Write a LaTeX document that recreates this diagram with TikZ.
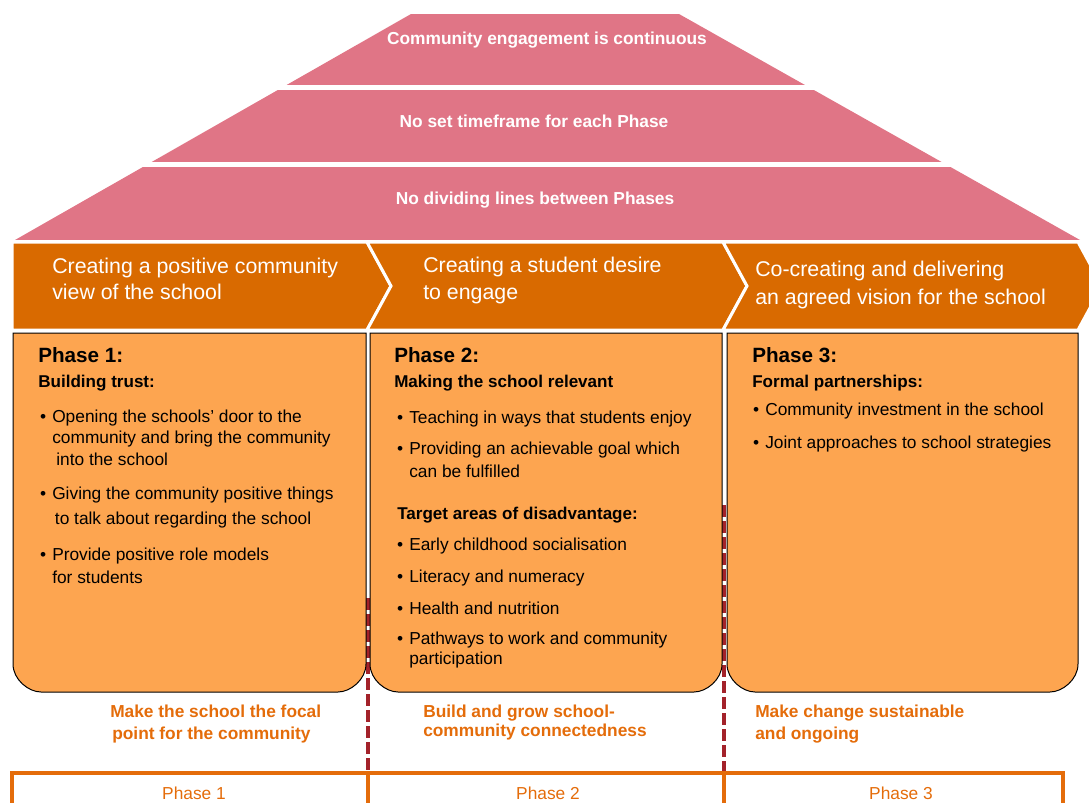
\documentclass[tikz,border=0pt]{standalone}
\usepackage{fontspec}
\setmainfont{Liberation Sans}
\usepackage{tikz}
\usetikzlibrary{calc,arrows,positioning}

\definecolor{bandpink}{HTML}{E07586}
\definecolor{chevorange}{HTML}{D96A00}
\definecolor{boxorange}{HTML}{FDA550}
\definecolor{goalorange}{HTML}{E46C0A}
\definecolor{dividerred}{HTML}{A3222A}

\newcommand{\bul}{\llap{\textbullet\hspace{4.5pt}}}

\begin{document}
\begin{tikzpicture}[x=0.75pt, y=-0.75pt, inner sep=0pt,
    bandtext/.style={anchor=base, text=white, font=\bfseries\fontsize{13}{16}\selectfont},
    chev/.style={fill=chevorange, draw=white, line width=2.25pt},
    chevtext/.style={anchor=base west, text=white, align=left, font=\fontsize{16}{19}\selectfont},
    phasebox/.style={fill=boxorange, draw=black, line width=0.75pt},
    phasetitle/.style={anchor=base west, font=\bfseries\fontsize{15.5}{18}\selectfont},
    subhead/.style={anchor=base west, font=\bfseries\fontsize{12.8}{16}\selectfont},
    listitem/.style={anchor=base west, align=left, font=\fontsize{13}{16}\selectfont},
    goaltext/.style={anchor=base west, align=left, text=goalorange, font=\bfseries\fontsize{13}{16}\selectfont},
    divider/.style={draw=dividerred, line width=3pt, dash pattern=on 9pt off 3pt},
    phaseframe/.style={draw=goalorange, line width=3.5pt},
    framelabel/.style={anchor=base, text=goalorange, font=\fontsize{13}{16}\selectfont}]
\useasboundingbox (0,0) rectangle (1089,803);

% chevrons
\draw[chev] (12,242) -- (367,242) -- (391,286) -- (367,330) -- (12,330) -- cycle;
\draw[chev] (367,242) -- (723,242) -- (747,286) -- (723,330) -- (367,330) -- (391,286) -- cycle;
\draw[chev] (723,242) -- (1078,242) -- (1102,286) -- (1078,330) -- (723,330) -- (747,286) -- cycle;

% roof
\begin{scope}
    \clip (411,14) -- (679,14) -- (1080,240) -- (15,240) -- cycle;
    \fill[bandpink] (0,14) rectangle (1089,85);
    \fill[bandpink] (0,90) rectangle (1089,162);
    \fill[bandpink] (0,167) rectangle (1089,240);
\end{scope}
\node[bandtext] (band1) at (547,44) {Community engagement is continuous};
\node[bandtext] (band2) at (534,127) {No set timeframe for each Phase};
\node[bandtext] (band3) at (535,204) {No dividing lines between Phases};

% multi-line nodes sit on the baseline of their last line
\node[chevtext] (view1) at (52,299) {Creating a positive community\\view of the school};
\node[chevtext] (view2) at (423,299) {Creating a student desire\\[1pt]to engage};
\node[chevtext] (view3) at (755,304) {Co-creating and delivering\\[1.5pt]an agreed vision for the school};

% dividers
\draw[divider] (368,598) -- (368,772);
\draw[divider] (724,505) -- (724,772);

% phase boxes
\draw[phasebox] (13,333) -- (366,333) -- (366,664) .. controls (366,679.5) and (350.5,692) .. (338,692) -- (41,692) .. controls (28.5,692) and (13,679.5) .. (13,664) -- cycle;
\draw[phasebox] (370,333) -- (722,333) -- (722,664) .. controls (722,679.5) and (706.5,692) .. (694,692) -- (398,692) .. controls (385.5,692) and (370,679.5) .. (370,664) -- cycle;
\draw[phasebox] (727,333) -- (1078,333) -- (1078,664) .. controls (1078,679.5) and (1062.5,692) .. (1050,692) -- (755,692) .. controls (742.5,692) and (727,679.5) .. (727,664) -- cycle;

% phase 1
\node[phasetitle] (p1title) at (38,362) {Phase 1:};
\node[subhead] (p1head) at (38,387) {Building trust:};
\node[listitem] (p1a) at (52,465) {\bul Opening the schools’ door to the\\community and bring the community\\\hspace{3pt}into the school};
\node[listitem] (p1b) at (52,524) {\bul Giving the community positive things\\[2.75pt]\hspace{2pt}to talk about regarding the school};
\node[listitem] (p1c) at (52,583) {\bul Provide positive role models\\[1pt]for students};

% phase 2
\node[phasetitle] (p2title) at (394,362) {Phase 2:};
\node[subhead] (p2head) at (394,387) {Making the school relevant};
\node[listitem] (p2a) at (409,423) {\bul Teaching in ways that students enjoy};
\node[listitem] (p2b) at (409,477) {\bul Providing an achievable goal which\\[1pt]can be fulfilled};
\node[subhead] (p2target) at (397,519) {Target areas of disadvantage:};
\node[listitem] (p2c) at (409,550) {\bul Early childhood socialisation};
\node[listitem] (p2d) at (409,582) {\bul Literacy and numeracy};
\node[listitem] (p2e) at (409,614) {\bul Health and nutrition};
\node[listitem] (p2f) at (409,664) {\bul Pathways to work and community\\[-1pt]participation};

% phase 3
\node[phasetitle] (p3title) at (752,362) {Phase 3:};
\node[subhead] (p3head) at (752,387) {Formal partnerships:};
\node[listitem] (p3a) at (765,415) {\bul Community investment in the school};
\node[listitem] (p3b) at (765,448) {\bul Joint approaches to school strategies};

% goals
\node[goaltext] (goal1) at (110,739) {Make the school the focal\\\hspace{1.5pt}point for the community};
\node[goaltext] (goal2) at (423,736) {Build and grow school-\\[-2pt]community connectedness};
\node[goaltext] (goal3) at (755,739) {Make change sustainable\\and ongoing};

% bottom frame
\draw[phaseframe] (12,815) -- (12,773) -- (1063,773) -- (1063,815);
\draw[phaseframe] (368,773) -- (368,815);
\draw[phaseframe] (724,773) -- (724,815);
\node[framelabel] (ph1) at (194,799) {Phase 1};
\node[framelabel] (ph2) at (548,799) {Phase 2};
\node[framelabel] (ph3) at (901,799) {Phase 3};
\end{tikzpicture}
\end{document}
